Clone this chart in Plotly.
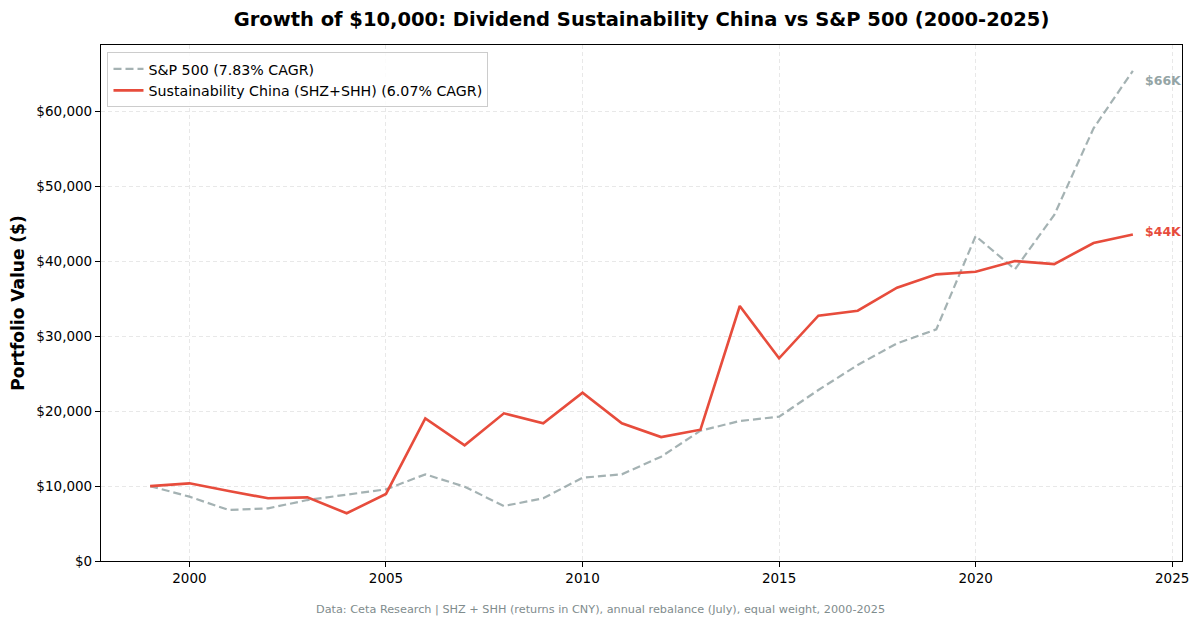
import plotly.graph_objects as go

years = list(range(1999, 2025))
sp500 = [10000, 8590, 6810, 7030, 8140, 8810, 9570, 11570, 9920, 7340, 8370,
         11120, 11570, 13930, 17400, 18690, 19270, 22830, 26170, 29060, 30930,
         43390, 38950, 46200, 57770, 65460]
china = [10000, 10370, 9350, 8370, 8500, 6370, 8950, 19050, 15450, 19720, 18380,
         22470, 18380, 16550, 17530, 34050, 27060, 32750, 33420, 36490, 38270,
         38630, 40050, 39650, 42460, 43600]
sp_label = "S&P 500 (7.83% CAGR)"
cn_label = "Sustainability China (SHZ+SHH) (6.07% CAGR)"
end_labels = ["$66K", "$44K"]
y_ticks = [0, 10000, 20000, 30000, 40000, 50000, 60000]
y_ticktext = ["$0", "$10,000", "$20,000", "$30,000", "$40,000", "$50,000", "$60,000"]
x_ticks = [2000, 2005, 2010, 2015, 2020, 2025]

RED = "#e74c3c"
GRAY = "#95a5a6"
FONT = "DejaVu Sans"

fig = go.Figure()
fig.add_trace(go.Scatter(x=years, y=sp500, mode="lines", name=sp_label,
                         line=dict(color=GRAY, width=2.2, dash="8px,4px"), opacity=0.85))
fig.add_trace(go.Scatter(x=years, y=china, mode="lines", name=cn_label,
                         line=dict(color=RED, width=2.6)))

fig.add_annotation(x=years[-1], y=sp500[-1], text="<b>" + end_labels[0] + "</b>",
                   showarrow=False, xanchor="left", xshift=10, yshift=-10,
                   font=dict(family=FONT, size=12.5, color=GRAY))
fig.add_annotation(x=years[-1], y=china[-1], text="<b>" + end_labels[1] + "</b>",
                   showarrow=False, xanchor="left", xshift=10, yshift=3,
                   font=dict(family=FONT, size=12.5, color=RED))

fig.add_annotation(x=(600 - 101) / (1182 - 101), y=(625 - 64 - 609) / (625 - 45 - 64),
                   xref="paper", yref="paper", yanchor="middle", xanchor="center",
                   text="Data: Ceta Research | SHZ + SHH (returns in CNY), annual rebalance (July), equal weight, 2000-2025",
                   showarrow=False, font=dict(family=FONT, size=11.25, color="#7f8c8d"))

fig.update_layout(
    width=1200, height=625,
    margin=dict(l=101, r=18, t=45, b=64),
    paper_bgcolor="white", plot_bgcolor="white",
    font=dict(family=FONT, size=13, color="black"),
    title=dict(text="<b>Growth of $10,000: Dividend Sustainability China vs S&P 500 (2000-2025)</b>",
               x=(101 + 1182) / 2 / 1200, xanchor="center", y=1 - 19 / 625, yanchor="middle",
               font=dict(family=FONT, size=19.5, color="black")),
    legend=dict(x=0.006, y=0.986, xanchor="left", yanchor="top",
                bgcolor="rgba(255,255,255,0.85)", bordercolor="#cccccc", borderwidth=1,
                font=dict(family=FONT, size=14.2), tracegroupgap=0),
    showlegend=True,
)
fig.update_xaxes(range=[1997.75, 2025.25], tickmode="array", tickvals=x_ticks,
                 ticktext=[str(v) for v in x_ticks],
                 showgrid=True, gridcolor="#e8e8e8", griddash="4px,3px", gridwidth=1,
                 showline=True, linecolor="black", linewidth=1.2, mirror=True,
                 ticks="outside", ticklen=5, tickcolor="black", zeroline=False,
                 tickfont=dict(family=FONT, size=13.5))
fig.update_yaxes(range=[0, 68900], tickmode="array", tickvals=y_ticks, ticktext=y_ticktext,
                 showgrid=True, gridcolor="#e8e8e8", griddash="4px,3px", gridwidth=1,
                 showline=True, linecolor="black", linewidth=1.2, mirror=True,
                 ticks="outside", ticklen=5, tickcolor="black", zeroline=False,
                 tickfont=dict(family=FONT, size=13.5),
                 title=dict(text="<b>Portfolio Value ($)</b>", font=dict(family=FONT, size=17),
                            standoff=7))

fig.write_html("out.html", config={"displayModeBar": False},
               post_script="document.body.style.margin='0';document.body.style.padding='0';")
